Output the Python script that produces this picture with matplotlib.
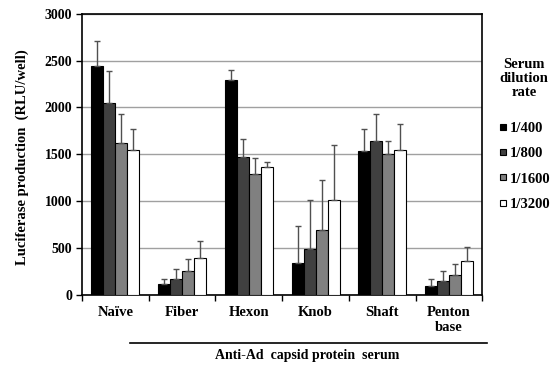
import matplotlib
matplotlib.use("Agg")
import matplotlib.pyplot as plt
import numpy as np
from matplotlib.lines import Line2D

categories = ["Naïve", "Fiber", "Hexon", "Knob", "Shaft", "Penton\nbase"]
series = ["1/400", "1/800", "1/1600", "1/3200"]
values_400 = [2443, 111, 2294, 339, 1539, 96]
values_800 = [2045, 168, 1468, 488, 1638, 146]
values_1600 = [1618, 250, 1290, 688, 1507, 207]
values_3200 = [1549, 395, 1368, 1011, 1549, 357]
upper_400 = [2710, 168, 2401, 734, 1767, 171]
upper_800 = [2387, 275, 1667, 1011, 1927, 256]
upper_1600 = [1927, 378, 1457, 1229, 1645, 328]
upper_3200 = [1767, 577, 1418, 1596, 1827, 513]
yticks = [0, 500, 1000, 1500, 2000, 2500, 3000]

colors = ["#000000", "#404040", "#808080", "#ffffff"]

plt.rcParams['font.family'] = ['Liberation Serif', 'DejaVu Serif']
plt.rcParams['font.weight'] = 'bold'

fig = plt.figure(figsize=(5.56, 3.66), dpi=100)
ax = fig.add_axes([0.1475, 0.195, 0.72, 0.767])

vals = [values_400, values_800, values_1600, values_3200]
ups = [upper_400, upper_800, upper_1600, upper_3200]
x = np.arange(len(categories))
w = 0.18
for i, (v, u) in enumerate(zip(vals, ups)):
    pos = x + (i - 1.5) * w
    v = np.array(v); u = np.array(u)
    ax.bar(pos, v, width=w, color=colors[i], edgecolor="black", linewidth=0.8, zorder=3)
    ax.errorbar(pos, v, yerr=[np.zeros_like(v), u - v], fmt="none", ecolor="#505050",
                elinewidth=1.0, capsize=2.5, capthick=1.0, zorder=4)

ax.set_xlim(-0.5, len(categories) - 0.5)
ax.set_ylim(0, 3000)
ax.set_yticks(yticks)
ax.set_yticklabels([str(t) for t in yticks], fontsize=10, fontweight='bold')
ax.yaxis.grid(True, color="#a0a0a0", linewidth=1.0, zorder=0)
ax.set_axisbelow(True)

ax.set_xticks(np.arange(len(categories) + 1) - 0.5)
ax.set_xticklabels([])
ax.tick_params(axis='x', direction='out', length=4, width=1)
ax.tick_params(axis='y', direction='out', length=4, width=1, pad=3)
for i, c in enumerate(categories):
    ax.text(i, -0.04, c, transform=ax.get_xaxis_transform(), ha='center', va='top',
            fontsize=10.5, fontweight='bold', linespacing=1.25)

for s in ax.spines.values():
    s.set_color("black")
    s.set_linewidth(1.2)

ax.set_ylabel("Luciferase production  (RLU/well)", fontsize=10.5, fontweight='bold')
ax.yaxis.set_label_coords(-0.132, 0.49)

# bracket line and group label
fig.add_artist(Line2D([130/556, 487/556], [1-343/366, 1-343/366], color='black', linewidth=1.2))
fig.text(307/556, 1-356/366, "Anti-Ad  capsid protein  serum", ha='center', va='center',
         fontsize=10, fontweight='bold')

fig.text(524/556, 1-79/366, "Serum\ndilution\nrate", ha='center', va='center',
         fontsize=10.5, fontweight='bold', linespacing=1.1, multialignment='center')

handles = [Line2D([], [], marker='s', markersize=5, markerfacecolor=colors[i],
                  markeredgecolor='black', markeredgewidth=0.8, linestyle='none')
           for i in range(4)]
leg = fig.legend(handles, series, loc='upper left', bbox_to_anchor=(499/556, 1-122/366),
                 frameon=False, prop={'size': 10.5, 'weight': 'bold'},
                 handlelength=0.6, handletextpad=0.15, labelspacing=0.82,
                 borderpad=0, borderaxespad=0)

fig.savefig("out.png", dpi=100)
